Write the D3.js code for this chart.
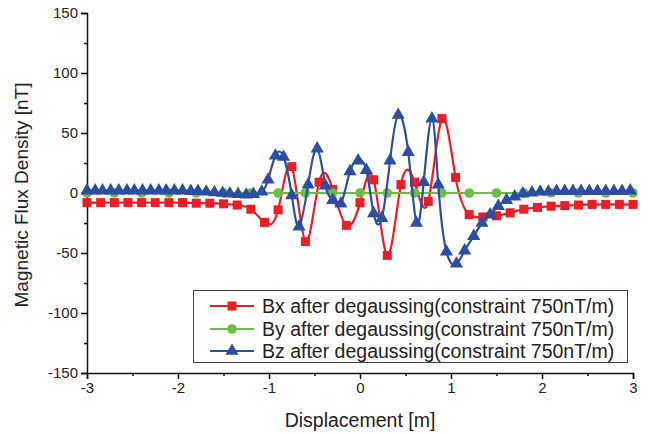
<!DOCTYPE html>
<html>
<head>
<meta charset="utf-8">
<script src="https://cdn.jsdelivr.net/npm/d3@7"></script>
<style>
  body { margin: 0; background: #fff; }
  text { font-family: "Liberation Sans", Arial, sans-serif; fill: #222; }
</style>
</head>
<body>
<script>
// data
var bxX = [-3.00, -2.85, -2.70, -2.55, -2.40, -2.25, -2.10, -1.95, -1.80, -1.65, -1.50, -1.35, -1.20, -1.05, -0.90, -0.75, -0.60, -0.45, -0.30, -0.15,
  0.00, 0.15, 0.30, 0.45, 0.60, 0.75, 0.90, 1.05, 1.20, 1.35, 1.50, 1.65, 1.80, 1.95, 2.10, 2.25, 2.40, 2.55, 2.70, 2.85, 3.00]
var bxY = [-8, -8, -8, -8, -8, -8, -8, -8, -8.5, -8.5, -9, -10, -13.5, -24.5, -14, 22, -40.5, 9, 3, -27,
  -8, 11, -52, 7, 9, -7, 62, 13, -18, -20, -19, -16.5, -13.5, -12, -11, -10.5, -10, -9.5, -9.5, -9.5, -9.5]

var byX = [-3.0, -2.7, -2.4, -2.1, -1.8, -1.5, -1.2, -0.9, -0.6, -0.3, 0.0, 0.3, 0.6, 0.9, 1.2, 1.5, 1.8, 2.1, 2.4, 2.7, 3.0]
var byY = [0, 0, 0, 0, 0, 0, 0, 0, 0, 0, 0, 0, 0, 0, 0, 0, 0, 0, 0, 0, 0]

var bzX = [-3.00, -2.91, -2.83, -2.74, -2.65, -2.56, -2.48, -2.39, -2.30, -2.21, -2.13, -2.04, -1.95, -1.86, -1.78, -1.69, -1.60, -1.51, -1.43, -1.34,
  -1.25, -1.17, -1.08, -1.01, -0.93, -0.84, -0.75, -0.67, -0.57, -0.47, -0.38, -0.30, -0.21, -0.11, -0.02, 0.07, 0.15, 0.24, 0.33, 0.42,
  0.53, 0.62, 0.70, 0.79, 0.86, 0.95, 1.06, 1.15, 1.25, 1.34, 1.43, 1.52, 1.61, 1.70, 1.79, 1.89, 1.98, 2.07, 2.16, 2.25,
  2.34, 2.43, 2.52, 2.61, 2.70, 2.79, 2.88, 2.97]
var bzY = [2, 2, 2, 2, 2, 2, 2, 2, 2, 2, 2, 2, 2, 1.5, 1.5, 1, 0.5, 0, -0.5, -1,
  -1.5, -1, 1, 11, 31, 30, -2, -28, 7, 37, 6, -6, -9, 18, 27, 19, -17, -21, 27, 65,
  34, -25, 9, 62, 7, -49, -59, -48, -36, -25, -18, -11, -6, -3, -0.5, 0.3, 1, 1, 1.5, 1.5,
  1.5, 1.5, 1.5, 1.5, 1.5, 1.5, 1.5, 2]

var xTicks = [-3, -2, -1, 0, 1, 2, 3]
var xMinor = [-2.5, -1.5, -0.5, 0.5, 1.5, 2.5]
var yTicks = [-150, -100, -50, 0, 50, 100, 150]
var yMinor = [-125, -75, -25, 25, 75, 125]

var seriesNames = ["Bx after degaussing(constraint 750nT/m)", "By after degaussing(constraint 750nT/m)", "Bz after degaussing(constraint 750nT/m)"]
var seriesColors = ["#ee1c25", "#6cbd45", "#2b4ea2"]
var seriesShapes = ["square", "circle", "triangle"]

window.onload = function () {
  DrawChart()
}

function DrawChart() {
  var W = 648, H = 434
  var left = 87, right = 633, top = 13, bottom = 373

  var svg = d3.select("body").append("svg")
    .attr("width", W)
    .attr("height", H)

  var x = d3.scaleLinear().domain([-3, 3]).range([left, right])
  var y = d3.scaleLinear().domain([-150, 150]).range([bottom, top])

  var fmt = function (d) { return String(d) }

  // axes
  svg.append("g").attr("transform", "translate(0," + bottom + ")")
    .call(d3.axisBottom(x).tickValues(xTicks).tickSize(6).tickPadding(3).tickFormat(fmt))
  svg.append("g").attr("transform", "translate(0," + bottom + ")")
    .call(d3.axisBottom(x).tickValues(xMinor).tickSize(3).tickFormat(""))
    .select(".domain").remove()

  svg.append("g").attr("transform", "translate(" + left + ",0)")
    .call(d3.axisLeft(y).tickValues(yTicks).tickSize(6).tickPadding(3).tickFormat(fmt))
  svg.append("g").attr("transform", "translate(" + left + ",0)")
    .call(d3.axisLeft(y).tickValues(yMinor).tickSize(3).tickFormat(""))
    .select(".domain").remove()

  svg.selectAll(".domain").attr("stroke", "#111").attr("stroke-width", 1.5)
  svg.selectAll(".tick line").attr("stroke", "#111").attr("stroke-width", 1.5)
  svg.selectAll(".tick text").style("font-size", "15px").style("font-family", "Liberation Sans, Arial, sans-serif").attr("fill", "#222")

  // axis titles
  svg.append("text")
    .attr("x", (left + right) / 2)
    .attr("y", 427)
    .attr("text-anchor", "middle")
    .style("font-size", "19.5px")
    .text("Displacement [m]")

  svg.append("text")
    .attr("transform", "translate(28," + 195 + ") rotate(-90)")
    .attr("text-anchor", "middle")
    .style("font-size", "19px")
    .text("Magnetic Flux Density [nT]")

  var series = [
    { xs: bxX, ys: bxY },
    { xs: byX, ys: byY },
    { xs: bzX, ys: bzY }
  ]

  // Origin-style spline connection
  var line = d3.line()
    .curve(d3.curveNatural)
    .x(function (d) { return x(d[0]) })
    .y(function (d) { return y(d[1]) })

  series.forEach(function (s, i) {
    var pts = s.xs.map(function (v, j) { return [v, s.ys[j]] })
    svg.append("path")
      .datum(pts)
      .attr("fill", "none")
      .attr("stroke", seriesColors[i])
      .attr("stroke-width", 2.2)
      .attr("d", line)

    DrawMarkers(svg.append("g"), pts.map(function (p) { return [x(p[0]), y(p[1])] }), seriesShapes[i], seriesColors[i])
  })

  // legend
  var lg = svg.append("g")
  lg.append("rect")
    .attr("x", 193.5).attr("y", 290.5)
    .attr("width", 434).attr("height", 72)
    .attr("fill", "#fff")
    .attr("stroke", "#444")
    .attr("stroke-width", 1)

  var rowY = [306, 329, 351]
  seriesNames.forEach(function (name, i) {
    lg.append("line")
      .attr("x1", 210).attr("x2", 254)
      .attr("y1", rowY[i]).attr("y2", rowY[i])
      .attr("stroke", seriesColors[i])
      .attr("stroke-width", 2)
    DrawMarkers(lg.append("g"), [[232, rowY[i]]], seriesShapes[i], seriesColors[i])
    lg.append("text")
      .attr("x", 262)
      .attr("y", rowY[i] + 7)
      .style("font-size", "19.5px")
      .text(name)
  })
}

function DrawMarkers(g, pts, shape, color) {
  if (shape === "square") {
    g.selectAll("rect").data(pts).enter().append("rect")
      .attr("x", function (d) { return d[0] - 4.5 })
      .attr("y", function (d) { return d[1] - 4.5 })
      .attr("width", 9).attr("height", 9)
      .attr("fill", color)
  } else if (shape === "circle") {
    g.selectAll("circle").data(pts).enter().append("circle")
      .attr("cx", function (d) { return d[0] })
      .attr("cy", function (d) { return d[1] })
      .attr("r", 4.8)
      .attr("fill", color)
  } else {
    var tri = d3.symbol().type(d3.symbolTriangle).size(75)
    g.selectAll("path").data(pts).enter().append("path")
      .attr("transform", function (d) { return "translate(" + d[0] + "," + d[1] + ")" })
      .attr("d", tri)
      .attr("fill", color)
  }
}
</script>
</body>
</html>
